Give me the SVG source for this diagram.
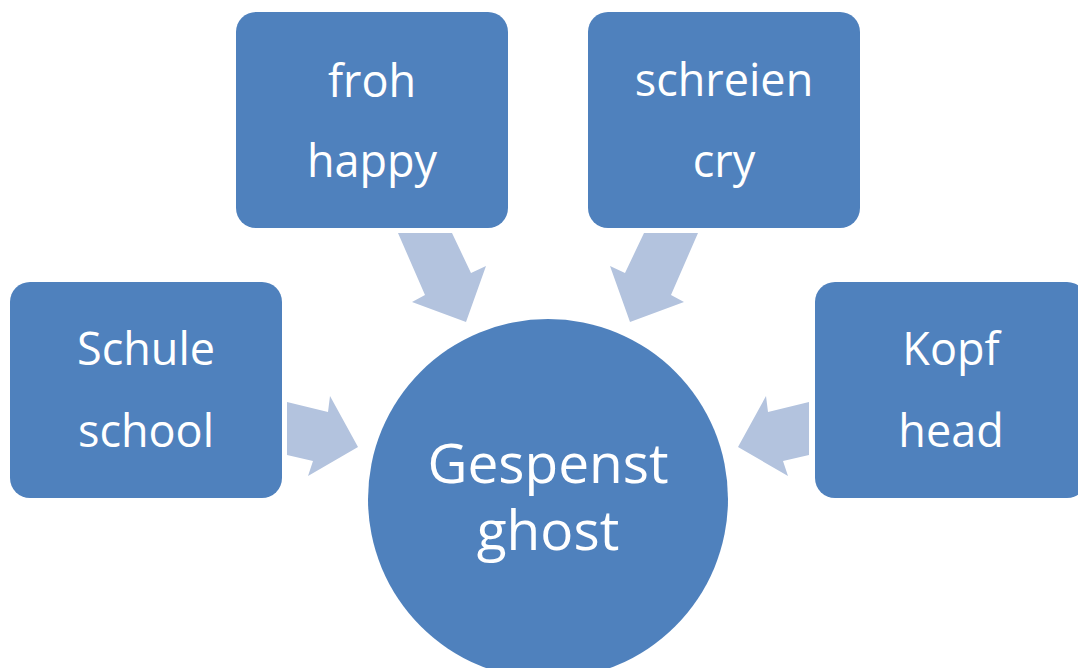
<svg xmlns="http://www.w3.org/2000/svg" width="1078" height="668" viewBox="0 0 1078 668">
  <style>
    .box { fill: #4F81BD; }
    .arrow { fill: #B3C3DE; }
    .label { font-family: "Open Sans", "Noto Sans", sans-serif; font-size: 45px; fill: #FFFFFF; text-anchor: middle; }
    .center-label { font-family: "Open Sans", "Noto Sans", sans-serif; font-size: 55px; fill: #FFFFFF; text-anchor: middle; }
  </style>
  <rect width="1078" height="668" fill="#FFFFFF"/>

  <!-- block arrows pointing at the centre -->
  <g id="connectors">
    <polygon class="arrow" points="398,233 452,233 471,273 486,266 466,322 412,302 425,295"/>
    <polygon class="arrow" points="698,233 644,233 625,273 610,266 630,322 684,302 671,295"/>
    <polygon class="arrow" points="287,402 328,412 330,396 358,447 308,476 313,461 287,455"/>
    <polygon class="arrow" points="809,402 768,412 766,396 738,447 788,476 783,461 809,455"/>
  </g>

  <g id="node-froh">
    <rect class="box" x="236" y="12" width="272" height="216" rx="20"/>
    <text class="label" x="372" y="97">froh</text>
    <text class="label" x="372" y="177">happy</text>
  </g>

  <g id="node-schreien">
    <rect class="box" x="588" y="12" width="272" height="216" rx="20"/>
    <text class="label" x="724" y="96">schreien</text>
    <text class="label" x="724" y="177">cry</text>
  </g>

  <g id="node-schule">
    <rect class="box" x="10" y="282" width="272" height="216" rx="20"/>
    <text class="label" x="146" y="365">Schule</text>
    <text class="label" x="146" y="447">school</text>
  </g>

  <g id="node-kopf">
    <rect class="box" x="815" y="282" width="272" height="216" rx="20"/>
    <text class="label" x="951" y="365">Kopf</text>
    <text class="label" x="951" y="447">head</text>
  </g>

  <g id="node-gespenst">
    <circle class="box" cx="548" cy="499" r="180"/>
    <text class="center-label" x="548" y="483">Gespenst</text>
    <text class="center-label" x="548" y="550">ghost</text>
  </g>
</svg>
